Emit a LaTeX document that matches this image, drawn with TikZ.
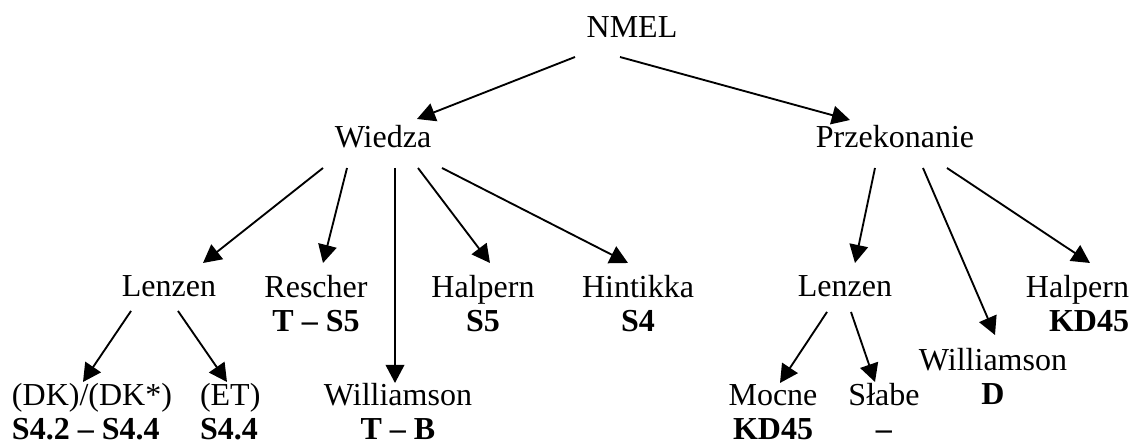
\documentclass[tikz,border=0pt]{standalone}
\usepackage{fontspec}
\setmainfont{Liberation Serif}
\usetikzlibrary{arrows.meta}

\begin{document}
\begin{tikzpicture}[x = 0.375pt, y = -0.375pt]
\tikzstyle{textStyle} = [inner sep = 0pt, outer sep = 0pt, font = \fontsize{12}{13.1}\selectfont]
\tikzstyle{centerStyle} = [textStyle, align = center, anchor = base]
\tikzstyle{arrowStyle} = [-{Triangle[length = 6.8pt, width = 7pt]}, line width = 0.7pt]
\useasboundingbox (0,0) rectangle (1133,443);
% top levels (base = last line)
\node[centerStyle] (nmel) at (632,38) {NMEL};
\node[centerStyle] (wiedza) at (383,148) {Wiedza};
\node[centerStyle] (przekonanie) at (895,148) {Przekonanie};
% knowledge
\node[centerStyle] (lenzenW) at (169,297) {Lenzen};
\node[centerStyle] (rescher) at (316,332) {Rescher\\\textbf{T -- S5}};
\node[centerStyle] (halpernW) at (483,332) {Halpern\\\textbf{S5}};
\node[centerStyle] (hintikka) at (638,332) {Hintikka\\\textbf{S4}};
\node[centerStyle] (williamsonW) at (398,440) {Williamson\\\textbf{T -- B}};
\node[textStyle, align = left, anchor = base west] (dk) at (12,440) {(DK)/(DK*)\\\textbf{S4.2 -- S4.4}};
\node[textStyle, align = left, anchor = base west] (et) at (200,440) {(ET)\\\textbf{S4.4}};
% belief
\node[centerStyle] (lenzenP) at (845,297) {Lenzen};
\node[textStyle, align = right, anchor = base east] (halpernP) at (1129,332) {Halpern\\\textbf{KD45}};
\node[centerStyle] (williamsonP) at (993,405) {Williamson\\\textbf{D}};
\node[centerStyle] (mocne) at (773,440) {Mocne\\\textbf{KD45}};
\node[centerStyle] (slabe) at (884,440) {Słabe\\\textbf{--}};
% arrows
\draw[arrowStyle] ([shift={(-57,19)}]nmel.base) -- ([shift={(34,-29)}]wiedza.base);
\draw[arrowStyle] ([shift={(-12,19)}]nmel.base) -- ([shift={(-45,-28)}]przekonanie.base);
\draw[arrowStyle] ([shift={(-60,20)}]wiedza.base) -- ([shift={(34,-34)}]lenzenW.base);
\draw[arrowStyle] ([shift={(-36,20)}]wiedza.base) -- ([shift={(7,-69)}]rescher.base);
\draw[arrowStyle] ([shift={(12,20)}]wiedza.base) -- ([shift={(-3,-57)}]williamsonW.base);
\draw[arrowStyle] ([shift={(35,20)}]wiedza.base) -- ([shift={(7,-69)}]halpernW.base);
\draw[arrowStyle] ([shift={(59,20)}]wiedza.base) -- ([shift={(-10,-69)}]hintikka.base);
\draw[arrowStyle] ([shift={(-38,14)}]lenzenW.base) -- ([shift={(71,-58)}]dk.base west);
\draw[arrowStyle] ([shift={(9,14)}]lenzenW.base) -- ([shift={(27,-58)}]et.base west);
\draw[arrowStyle] ([shift={(-20,20)}]przekonanie.base) -- ([shift={(10,-34)}]lenzenP.base);
\draw[arrowStyle] ([shift={(28,20)}]przekonanie.base) -- ([shift={(2,-70)}]williamsonP.base);
\draw[arrowStyle] ([shift={(52,20)}]przekonanie.base) -- ([shift={(-39,-69)}]halpernP.base east);
\draw[arrowStyle] ([shift={(-18,15)}]lenzenP.base) -- ([shift={(7,-57)}]mocne.base);
\draw[arrowStyle] ([shift={(6,15)}]lenzenP.base) -- ([shift={(-9,-58)}]slabe.base);
\end{tikzpicture}
\end{document}
